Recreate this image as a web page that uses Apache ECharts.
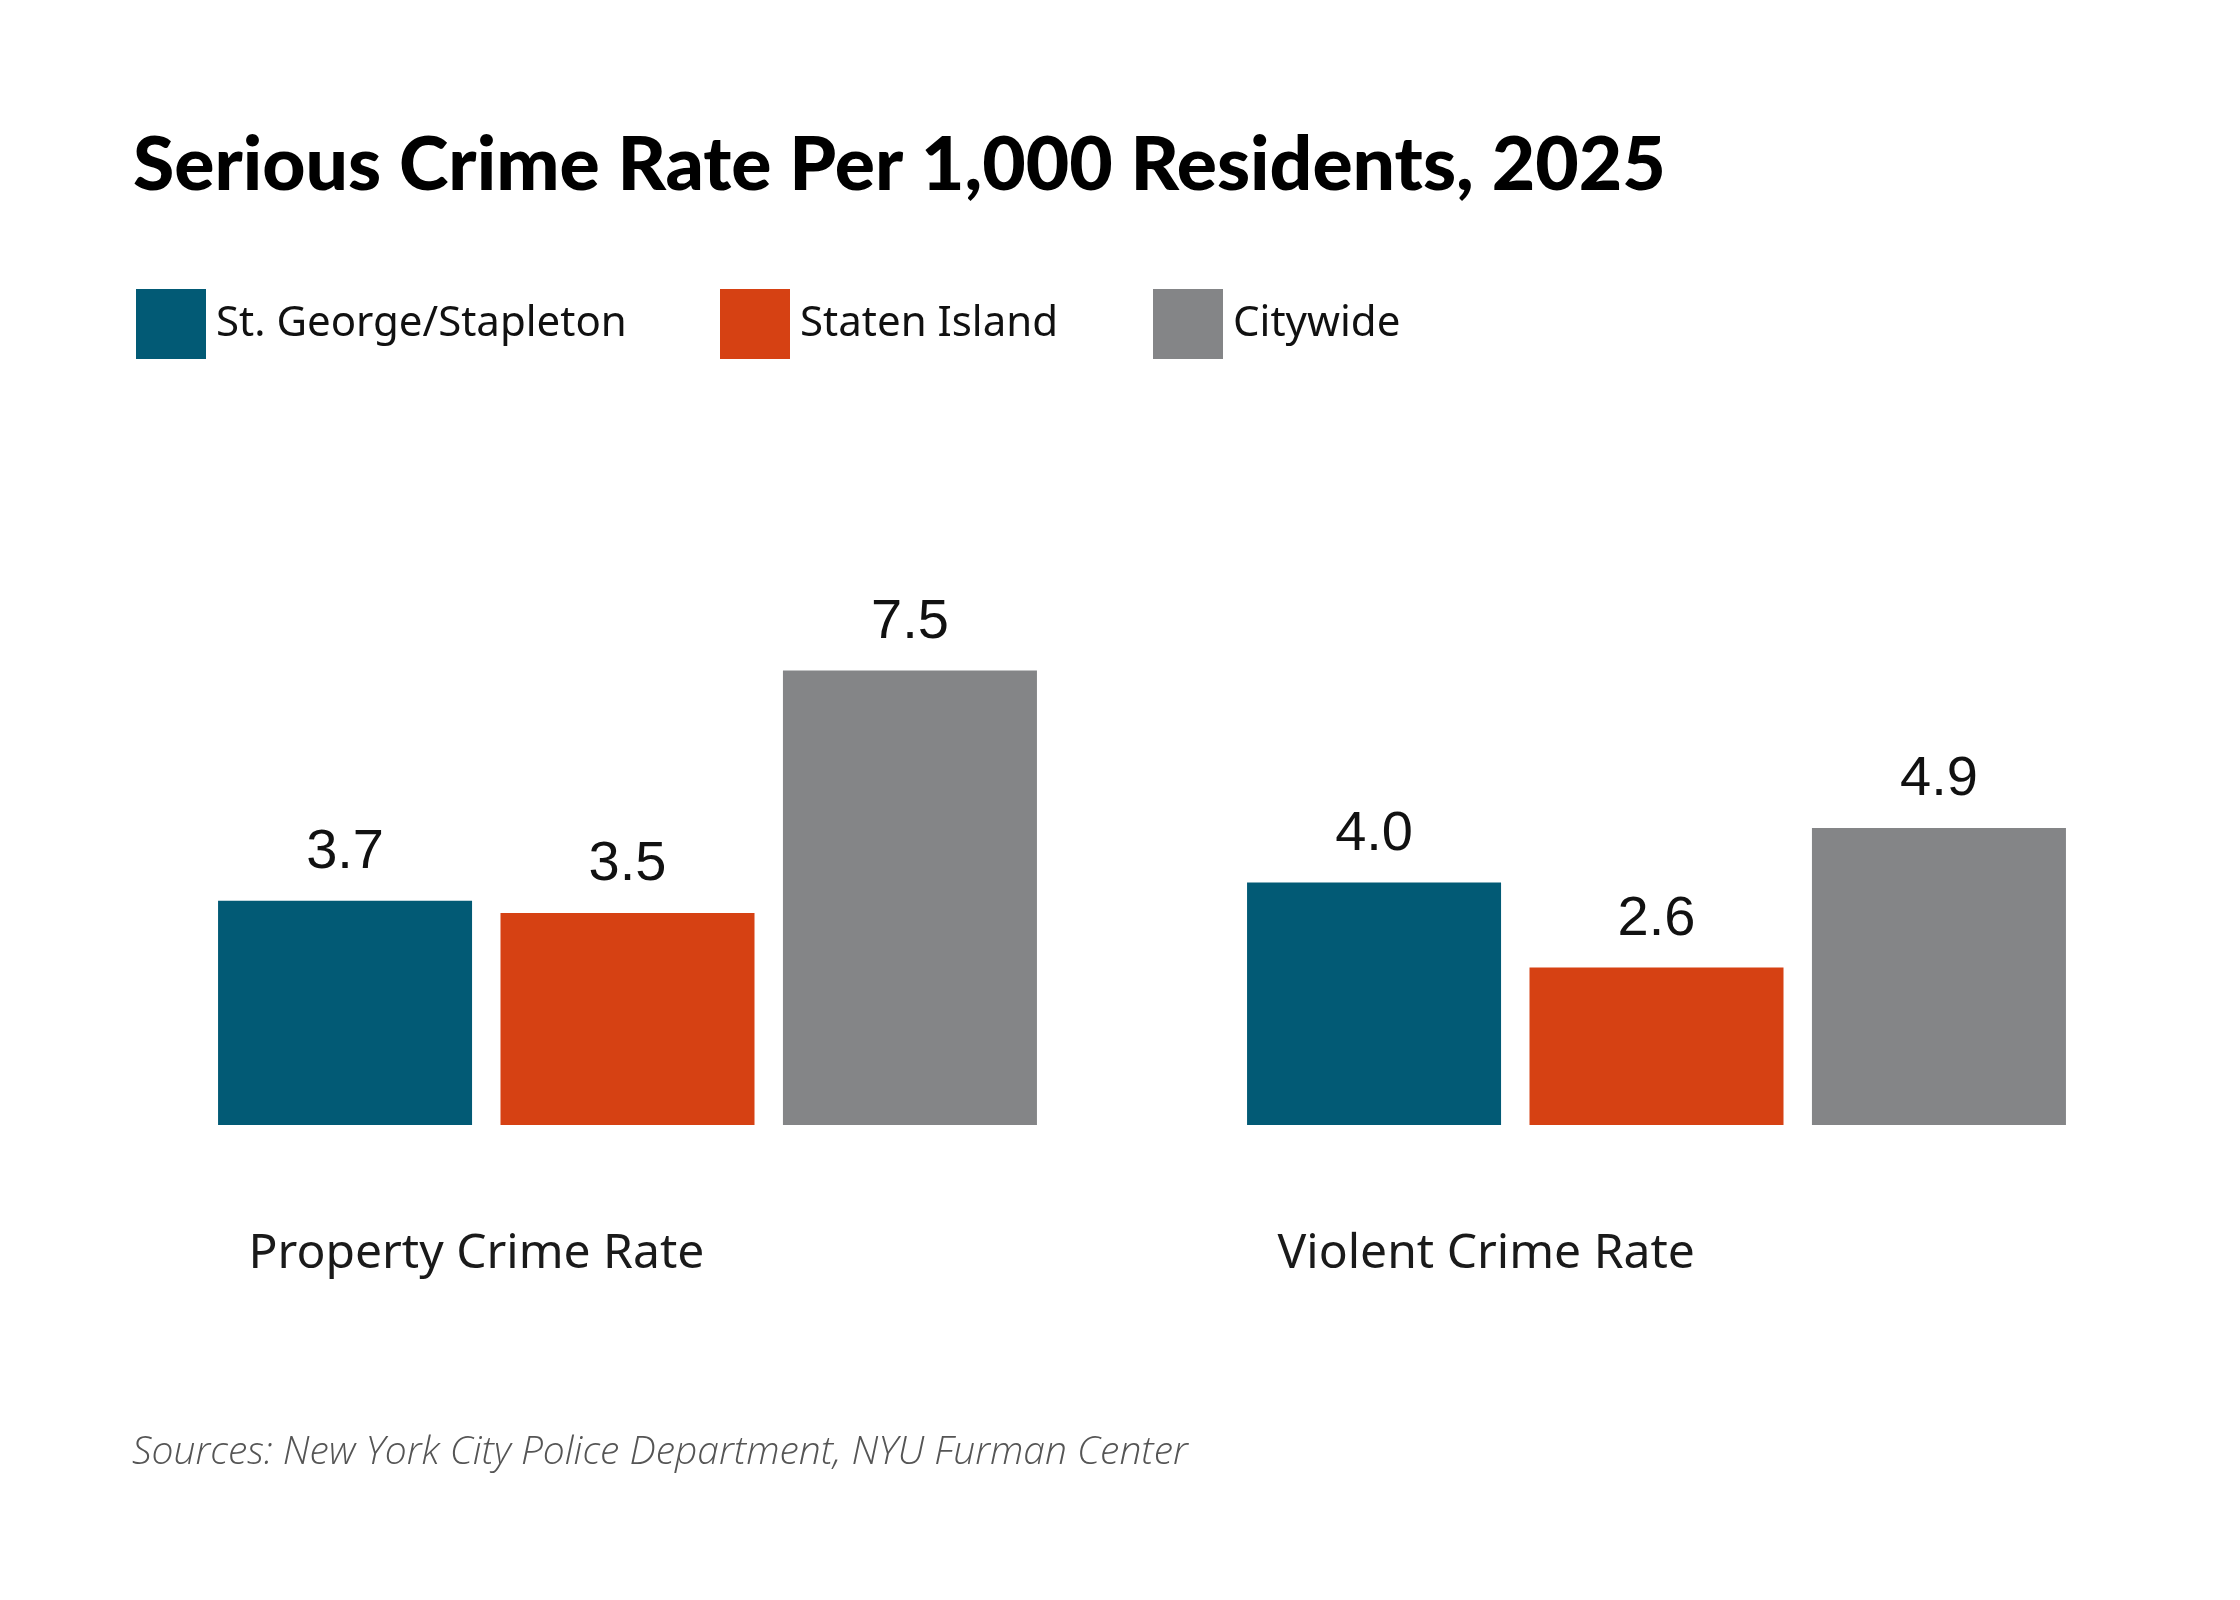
<!DOCTYPE html>
<html>
<head>
<meta charset="utf-8">
<script src="https://cdn.jsdelivr.net/npm/echarts@6/dist/echarts.min.js"></script>
<style>
  html, body { margin: 0; padding: 0; background: #fff; }
  #chart { width: 2240px; height: 1600px; }
</style>
</head>
<body>
<div id="chart"></div>
<script>
var categories = ['Property Crime Rate', 'Violent Crime Rate'];
var seriesNames = ['St. George/Stapleton', 'Staten Island', 'Citywide'];
var stGeorge = [3.7, 4.0];
var statenIsland = [3.5, 2.6];
var citywide = [7.5, 4.9];
var colors = ['#025a75', '#d64113', '#848587'];

var legendLeft = [136, 720, 1153];
var legends = seriesNames.map(function (n, i) {
    return {
        data: [n],
        left: legendLeft[i],
        top: 289,
        padding: 0,
        itemWidth: 70,
        itemHeight: 70,
        selectedMode: false,
        icon: 'rect',
        textStyle: {
            fontFamily: 'Noto Sans',
            fontSize: 42,
            color: '#111',
            padding: [16, 0, 0, 5]
        }
    };
});

function barSeries(name, data, color) {
    return {
        name: name,
        type: 'bar',
        data: data,
        barWidth: 254,
        barGap: '11.2%',
        itemStyle: { color: color },
        label: {
            show: true,
            position: 'top',
            distance: 20,
            formatter: function (p) { return p.value.toFixed(1); },
            fontFamily: 'Liberation Sans',
            fontSize: 56,
            color: '#111'
        }
    };
}

var myChart = echarts.init(document.getElementById('chart'));
myChart.setOption({
    animation: false,
    backgroundColor: '#fff',
    title: [
        {
            text: 'Serious Crime Rate Per 1,000 Residents, 2025',
            left: 128,
            top: 123,
            textStyle: { fontFamily: 'Lato', fontWeight: 900, fontSize: 75, color: '#000' }
        },
        {
            text: 'Sources: New York City Police Department, NYU Furman Center',
            left: 127,
            top: 1428,
            textStyle: { fontFamily: 'Open Sans', fontStyle: 'italic', fontWeight: 300, fontSize: 39, color: '#555' }
        }
    ],
    legend: legends,
    grid: { left: 113, right: 69, top: 519, bottom: 475 },
    xAxis: {
        type: 'category',
        data: categories,
        axisLine: { show: false },
        axisTick: { show: false },
        axisLabel: {
            margin: 105,
            formatter: function (v) { return '{a|' + v + '}'; },
            rich: {
                a: { width: 758, align: 'left', fontFamily: 'Noto Sans', fontSize: 48, color: '#1a1a1a' }
            }
        }
    },
    yAxis: {
        type: 'value',
        min: 0,
        max: 10,
        show: false,
        splitLine: { show: false }
    },
    series: [
        barSeries(seriesNames[0], stGeorge, colors[0]),
        barSeries(seriesNames[1], statenIsland, colors[1]),
        barSeries(seriesNames[2], citywide, colors[2])
    ]
});
</script>
</body>
</html>
